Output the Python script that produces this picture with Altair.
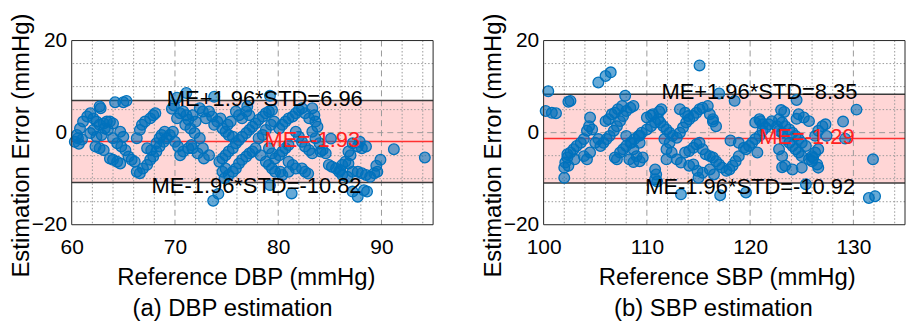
import altair as alt
import pandas as pd

FONT = "Liberation Sans"

# ---------------- (a) DBP ----------------
dbp_ref = [64.2, 65.0, 65.3, 62.7, 62.8, 61.8, 61.5, 61.1, 60.8, 60.5, 60.3, 60.6, 60.7, 61.0,
           62.1, 62.4, 62.7, 63.1, 63.4, 63.7, 64.0, 63.2, 63.5, 62.1, 61.8, 62.4, 62.9,
           62.3, 62.7, 63.1, 63.7, 64.0, 64.4, 64.7,
           64.0, 64.4, 64.7, 65.0, 64.8, 65.2, 65.5, 65.8, 66.1,
           66.3, 66.6, 66.9, 67.3, 67.6, 67.9, 68.2, 68.5, 68.9, 69.2, 69.5, 69.8,
           66.3, 66.6, 66.8, 67.1, 67.6, 67.9, 68.1,
           67.3, 67.7, 68.2, 68.5, 68.7, 69.0,
           69.7, 69.9, 70.2, 71.1,
           70.2, 70.5, 70.8, 71.1, 71.3, 71.0, 71.5,
           70.0, 70.3, 70.5, 70.8, 71.3, 71.6,
           71.7, 72.0, 72.4, 72.7, 73.0, 71.9, 72.4, 71.7, 72.2, 72.7, 72.8, 73.3,
           73.3, 73.6, 73.8, 74.1, 74.4, 74.6, 74.9, 75.2, 75.6, 75.1, 75.4, 75.9, 76.2, 76.5, 76.9, 77.2, 77.0,
           74.3, 74.6, 74.9, 75.2, 75.6, 75.9, 76.2, 76.5, 76.9, 77.2, 77.5, 77.8, 78.1, 78.5, 78.8, 79.1, 79.4,
           74.6, 74.9, 74.8, 75.2, 75.6, 75.9, 76.2, 76.5, 76.9, 77.2, 77.5,
           78.1, 78.5, 78.8, 79.3, 79.6,
           77.8, 78.3, 78.8, 79.1, 79.4, 79.7,
           79.1, 79.4, 79.7, 80.1, 80.4, 80.7, 81.0,
           80.1, 80.4, 80.7, 81.0, 81.4, 81.7, 82.0, 82.3, 82.6, 83.0,
           81.7, 82.0, 82.3, 82.6, 83.0, 83.3,
           81.0, 81.4, 81.7, 81.0, 80.2, 80.4, 82.3, 82.6, 82.9,
           73.8, 79.2, 73.7, 74.2, 79.2, 81.3,
           83.3, 83.5, 83.6, 83.8, 83.3, 83.6, 84.0, 84.1, 84.3, 84.6,
           87.2, 87.7, 88.1, 88.5, 86.8, 87.0,
           84.9, 85.2, 85.6, 86.0, 86.2, 86.5, 86.8,
           85.9, 86.2, 86.7, 87.2, 87.7, 88.1, 88.5, 88.9, 89.3, 89.6, 89.9, 89.5,
           91.2, 94.2,
           87.2, 87.7, 88.3, 88.6, 85.1, 87.9]
dbp_err = [6.6, 6.6, 6.9, 5.7, 5.3, 4.2, 3.5, 2.4, 0.9, -0.5, -2.0, -1.2, -2.4, -1.5,
           3.1, 2.4, 1.7, 2.0, 2.4, 2.4, 2.0, 0.9, 0.6, 0.6, -0.1, -0.9, -0.5,
           -3.0, -3.4, -3.8, -5.6, -5.9, -6.3, -6.7,
           -1.2, -2.3, 0.2, -0.9, -3.0, -3.8, -5.2, -5.9, -6.3,
           -8.5, -8.8, -7.8, -7.0, -5.9, -5.2, -4.1, -3.0, -2.0, -1.2, -0.5, 0.2,
           -1.2, 0.6, 1.7, 2.4, 3.1, 3.8, 4.2,
           -3.4, -3.8, -2.3, -1.2, -0.5, 0.2,
           5.2, 5.9, 7.6, 8.6,
           3.1, 4.2, 4.6, 3.8, 2.8, 1.7, 0.9,
           -2.0, -3.0, -4.9, -4.1, -3.4, -2.7,
           3.8, 2.4, 5.3, 4.6, 3.1, -0.1, -1.2, -3.4, -4.5, -3.4, -5.6, -4.9,
           4.6, 3.5, 1.7, 2.4, 3.1, 0.9, 0.2, -0.5, -0.9, 1.7, 2.4, 4.6, 3.8, 3.1, 4.6, 3.8, 5.7,
           -6.3, -5.6, -4.9, -4.1, -3.4, -2.3, -1.6, -0.9, -0.1, 0.6, 1.3, 2.0, 2.8, 3.5, 4.2, 4.6, 4.9,
           -8.5, -7.8, -9.9, -9.2, -8.5, -7.8, -6.7, -5.9, -5.2, -4.5, -4.1,
           -1.2, -0.5, 0.6, 1.7, 2.4,
           -3.4, -4.9, -6.3, -7.0, -7.8, -8.5,
           -3.4, -4.5, -5.6, -4.9, -4.1, -3.4, -2.7,
           0.9, 1.7, 2.4, 3.1, 3.5, 4.2, 4.9, 5.3, 4.2, 3.1,
           0.2, -0.9, -2.0, -3.0, -3.8, -4.5,
           -6.3, -7.0, -7.8, -8.5, -8.5, -9.2, -7.8, -8.5, -8.9,
           7.8, 8.0, -14.8, -13.3, -11.4, -13.2,
           5.3, 3.8, 2.4, 1.3, 0.2, -1.2, -2.3, -4.1, -3.8, -4.5,
           -2.3, -3.0, -3.4, -3.0, -4.1, -4.9,
           -7.0, -7.4, -7.8, -8.1, -7.0, -6.3, -6.7,
           -8.5, -9.2, -9.6, -8.5, -8.5, -8.8, -9.2, -9.6, -8.8, -8.5, -5.9, -7.2,
           -3.6, -5.4,
           -12.8, -13.9, -12.5, -12.8, -1.3, -2.0]
dbp_stats = [-1.93, 6.96, -10.82]          # mean error, upper limit, lower limit

# ---------------- (b) SBP ----------------
sbp_ref = [100.45, 100.2, 100.8, 101.2, 102.4, 102.6, 105.3, 106.0, 106.5, 107.9,
           104.5, 104.4, 104.2, 104.7, 103.9, 103.6, 103.2, 102.9, 102.6, 102.3, 102.1, 102.0, 102.0,
           105.3, 105.0, 105.5, 105.8, 106.1, 106.4, 106.8, 107.1, 107.4, 107.7, 108.0, 108.4, 108.7,
           106.0, 106.3, 106.6, 106.9, 107.2, 107.6,
           106.9, 107.4, 107.7, 108.0, 108.5, 108.8, 109.2, 109.5, 110.0, 110.4, 110.8, 111.1, 110.6,
           108.0, 108.4, 108.7, 109.0, 109.3, 109.6, 110.8, 110.8,
           103.9, 104.5, 104.2, 102.3, 102.4, 103.0, 107.1, 108.7, 108.3, 109.3, 110.0, 110.4, 111.2, 109.3, 111.4,
           111.3, 111.6, 111.9, 112.2, 112.5, 111.7, 112.2, 112.9, 113.2, 113.5, 113.8, 114.1, 114.5, 114.8,
           115.1, 115.4, 115.9, 116.1, 116.4, 116.7,
           113.2, 113.7, 114.0,
           111.9, 112.4, 112.9, 113.3, 113.7, 114.1, 114.5, 114.8, 115.1, 115.4, 115.7, 116.1, 116.4, 116.7,
           117.0, 117.3, 117.7, 118.0, 118.3, 118.6, 118.9,
           114.5, 114.9, 115.4, 116.1, 116.5,
           119.6, 119.9, 120.2, 120.5, 120.9, 121.2, 121.5, 121.8, 122.1,
           120.5, 120.9, 121.2, 120.7, 122.6, 122.8,
           115.1, 118.5, 117.0, 113.3, 117.1, 119.6, 115.0, 110.9, 111.0,
           118.9, 119.4, 118.1, 116.4, 114.1, 111.9,
           122.8, 123.1, 123.4, 123.8, 124.1, 124.4, 124.7, 125.0, 125.4,
           123.4, 123.8, 124.1, 124.4, 124.7, 125.0, 123.1, 122.8, 123.1, 123.4, 124.1, 125.0,
           125.7, 126.0, 126.3, 126.6, 126.0, 126.5, 126.6,
           127.0, 127.3, 126.6, 126.3, 127.4, 124.7, 125.2, 125.7,
           124.5, 130.3, 129.0, 129.2, 131.9, 131.5, 132.1, 125.4, 123.0, 123.3, 121.0, 124.5, 123.1, 126.1]
sbp_err = [9.0, 4.7, 4.3, 4.2, 6.7, 6.9, 10.9, 12.3, 13.1, 8.0,
           3.3, 1.4, 0.4, 0.7, -1.4, -2.2, -2.9, -3.6, -4.3, -5.4, -6.5, -7.6, -9.8,
           -1.4, -2.2, -2.9, -2.2, -1.4, -0.7, 0.4, 1.4, 2.5, 3.6, 4.7, 5.4, 5.8,
           2.5, 2.9, 4.0, 4.3, 5.1, 5.8,
           -5.4, -4.3, -3.6, -2.9, -2.2, -1.4, -0.7, 0.0, 0.7, 1.4, 2.2, 2.9, 4.0,
           -0.7, -2.2, -3.6, -5.1, -6.2, -5.4, -8.0, -10.1,
           -5.1, -4.3, -5.8, -4.7, -7.2, -5.8, -5.8, -6.4, -5.8, -2.2, 3.3, 3.7, 4.6, -0.6, 5.1,
           2.2, 1.4, 0.7, 0.0, -0.7, -1.4, -2.2, -1.1, 0.0, 1.1, 2.2, 2.9, 3.6, 4.3,
           5.1, 5.4, 5.8, 4.0, 2.9, 1.4,
           5.1, 4.3, 3.6,
           -3.6, -4.3, -5.8, -6.5, -4.3, -4.0, -3.3, -2.5, -2.2, -3.6, -4.7, -5.1, -5.4, -6.2,
           -6.9, -7.6, -8.3, -8.0, -7.2, -6.2, -5.1,
           -6.9, -8.3, -8.7, -8.0, -9.1,
           -3.6, -2.9, -2.2, -1.4, -0.7, 0.4, 1.1, 1.8, 2.5,
           2.2, 2.9, 1.8, -4.3, 1.4, 0.4,
           14.6, 6.9, 8.5, -13.4, -13.6, -13.0, -9.8, -9.1, -10.6,
           -2.2, -3.3, -1.7, 2.4, -7.2, -5.8,
           2.9, 2.2, 1.4, 0.7, 0.0, -0.7, -1.4, -2.2, -2.9,
           -1.4, -2.2, -2.9, -3.6, -4.3, -5.1, 0.0, -3.6, -5.1, -7.2, -8.0, -7.6,
           -5.8, -5.1, -4.3, -3.6, -6.2, -6.9, -7.6,
           1.4, 1.8, 0.4, -0.7, -0.7, 4.0, 3.3, 2.5,
           7.1, 5.0, 2.4, -1.3, -5.8, -14.2, -13.8, -11.2, 4.9, 4.5, 2.5, 3.0, -7.5, -5.5]
sbp_stats = [-1.29, 8.35, -10.92]

y_ticks = [-20, 0, 20]
y_minor = [-15, -10, -5, 5, 10, 15]
y_major = [0]

W, H = 363, 185
BLUE = "#0072BD"


def panel(ref, err, stats, xdom, xticks, xmajor, xminor, xtitle, caption,
          lab_x, title_x, cap_dx):
    me, up, lo = stats
    xs = alt.Scale(domain=xdom, nice=False, zero=False)
    ys = alt.Scale(domain=[-20, 20], nice=False, zero=False)

    x_axis = alt.Axis(values=xticks, title=xtitle, labelFlush=False,
                      ticks=False, domain=False, grid=False,
                      labelFontSize=21, labelPadding=12,
                      titleFontSize=24, titleFontWeight="normal",
                      titlePadding=8, titleX=title_x,
                      labelColor="black", titleColor="black")
    y_axis = alt.Axis(values=y_ticks, title="Estimation Error (mmHg)",
                      ticks=False, domain=False, grid=False,
                      labelFontSize=21, labelPadding=5,
                      titleFontSize=24, titleFontWeight="normal",
                      titlePadding=-2, titleY=105,
                      labelColor="black", titleColor="black")

    pts = alt.Chart(pd.DataFrame({"ref": ref, "err": err})).mark_circle(
        size=115, fill=BLUE, fillOpacity=0.6, stroke=BLUE, strokeWidth=1.3,
        opacity=1).encode(
        x=alt.X("ref:Q", scale=xs, axis=x_axis),
        y=alt.Y("err:Q", scale=ys, axis=y_axis))

    band = alt.Chart(pd.DataFrame({"lo": [lo], "up": [up]})).mark_rect(
        color="#ffd6d6").encode(
        x=alt.value(0), x2=alt.value("width"),
        y=alt.Y("lo:Q", scale=ys, axis=y_axis), y2="up:Q")

    gx_minor = alt.Chart(pd.DataFrame({"v": xminor})).mark_rule(
        color="#9a9a9a", strokeDash=[1.5, 2], strokeWidth=1).encode(
        x=alt.X("v:Q", scale=xs, axis=x_axis))
    gx_major = alt.Chart(pd.DataFrame({"v": xmajor})).mark_rule(
        color="#9a9a9a", strokeDash=[6, 4], strokeWidth=1).encode(
        x=alt.X("v:Q", scale=xs, axis=x_axis))
    gy_minor = alt.Chart(pd.DataFrame({"v": y_minor})).mark_rule(
        color="#9a9a9a", strokeDash=[1.5, 2], strokeWidth=1).encode(
        y=alt.Y("v:Q", scale=ys, axis=y_axis))
    gy_major = alt.Chart(pd.DataFrame({"v": y_major})).mark_rule(
        color="#9a9a9a", strokeDash=[6, 4], strokeWidth=1).encode(
        y=alt.Y("v:Q", scale=ys, axis=y_axis))

    limits = alt.Chart(pd.DataFrame({"v": [up, lo]})).mark_rule(
        color="#3a3a3a", strokeWidth=1.5).encode(
        y=alt.Y("v:Q", scale=ys, axis=y_axis))
    mean = alt.Chart(pd.DataFrame({"v": [me]})).mark_rule(
        color="#ff3030", strokeWidth=1.5).encode(
        y=alt.Y("v:Q", scale=ys, axis=y_axis))

    def label(x, y, text, color, dy):
        return alt.Chart(pd.DataFrame({"x": [x], "y": [y], "t": [text]})).mark_text(
            fontSize=22, font=FONT, color=color, align="center",
            baseline="middle", dy=dy).encode(
            x=alt.X("x:Q", scale=xs, axis=x_axis),
            y=alt.Y("y:Q", scale=ys, axis=y_axis), text="t:N")

    t_up = label(lab_x[0], up, f"ME+1.96*STD={up:.2f}", "black", -2)
    t_me = label(lab_x[1], me, f"ME={me:.2f}", "#ff2020", -2)
    t_lo = label(lab_x[2], lo, f"ME-1.96*STD={lo:.2f}", "black", 4)

    frame = alt.Chart(pd.DataFrame({"a": [0]})).mark_rect(
        fillOpacity=0, stroke="#262626", strokeWidth=1).encode(
        x=alt.value(0), x2=alt.value("width"),
        y=alt.value(0), y2=alt.value("height"))

    return alt.layer(band, gx_minor, gx_major, gy_minor, gy_major, limits,
                     mean, pts, t_up, t_me, t_lo, frame).properties(
        width=W, height=H,
        title=alt.TitleParams(text=caption, orient="bottom", fontSize=24,
                              fontWeight="normal", font=FONT, color="black",
                              offset=8, dx=cap_dx, anchor="middle"))


pa = panel(dbp_ref, dbp_err, dbp_stats, [60, 95], [60, 70, 80, 90], [70, 80, 90],
           [62, 64, 66, 68, 72, 74, 76, 78, 82, 84, 86, 88, 92, 94],
           "Reference DBP (mmHg)", "(a) DBP estimation",
           [78.7, 83.3, 77.9], 175, -20)
pb = panel(sbp_ref, sbp_err, sbp_stats, [100, 135], [100, 110, 120, 130], [110, 120, 130],
           [102, 104, 106, 108, 112, 114, 116, 118, 122, 124, 126, 128, 132, 134],
           "Reference SBP (mmHg)", "(b) SBP estimation",
           [120.9, 125.5, 120.0], 184, -11)

chart = alt.hconcat(pa, pb, spacing=47).configure(font=FONT).configure_view(
    stroke=None).properties(
    padding={"left": 1, "top": 4, "right": 0, "bottom": 0})

chart.save("out.html", embed_options={"renderer": "svg", "actions": False})
